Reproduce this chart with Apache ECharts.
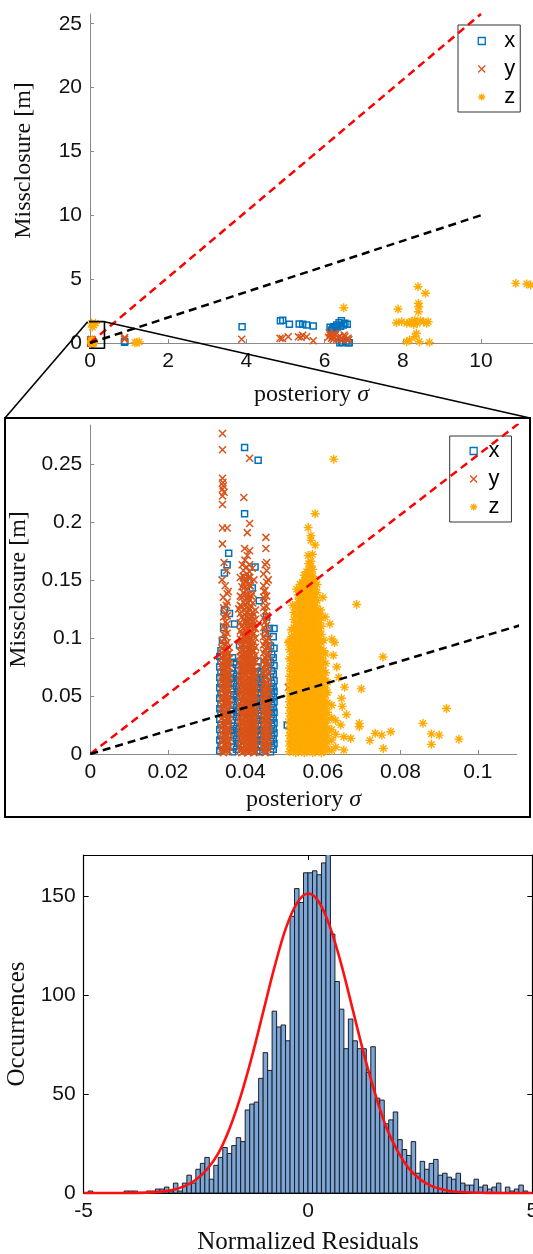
<!DOCTYPE html>
<html>
<head>
<meta charset="utf-8">
<script src="https://cdn.jsdelivr.net/npm/echarts@6/dist/echarts.min.js"></script>
<style>
  html, body { margin: 0; padding: 0; background: #fff; }
  #chart { width: 533px; height: 1254px; }
</style>
</head>
<body>
<div id="chart"></div>
<script>
// ---------------- misclosure vs. posterior sigma ----------------
// Dense blocks are stored as vertical runs: [sigma, [misclosure, ...]]
const xRuns = [
  [0.0334, [.003,.012,.021,.030,.039,.048,.057,.066,.075,.084]],
  [0.0337, [.007,.016,.025,.035,.043,.052,.061,.070,.080,.089]],
  [0.0367, [.002,.011,.020,.029,.038,.047,.056,.065,.074,.083]],
  [0.0370, [.006,.016,.024,.034,.042,.051,.061,.069,.079]],
  [0.0377, [.004,.013,.022,.032,.040,.049,.058,.067,.077]],
  [0.0380, [.009,.018,.027,.036,.045,.054,.063,.072]],
  [0.0430, [.003,.012,.021,.030,.040,.048,.057,.066,.075]],
  [0.0433, [.008,.017,.026,.035,.044,.053,.062,.071,.080]],
  [0.0438, [.002,.011,.020,.029,.038,.047,.056,.064]],
  [0.0441, [.006,.015,.024,.033,.042,.051,.060,.069]],
  [0.0465, [.002,.011,.020,.029,.038,.047,.056,.066,.079,.093]],
  [0.0468, [.007,.016,.025,.034,.043,.052,.061,.072,.086]],
  [0.0472, [.004,.013,.022,.031,.040,.049,.058,.069,.083,.101]],
  [0.0474, [.009,.018,.027,.036,.045,.054,.063,.076,.091,.108]]
];
const xPoints = [
  [.0357,.173],[.0398,.207],[.0398,.264],[.0433,.253],[.0353,.163],[.0346,.156],[.0425,.161],
  [.0346,.124],[.0359,.121],[.0436,.132],[.0418,.143],[.0462,.108],[.0341,.098],[.0385,.094],
  [.0372,.112],[.0409,.118],[.0452,.104],[.0508,.025],[.0344,.109],[.0400,.152],[.0455,.118]
];
const xFar = [
  [0.885,0.05],[0.885,0.12],[3.89,1.28],[4.87,1.75],[4.93,1.78],[5.10,1.46],[5.35,1.49],[5.44,1.46],
  [5.54,1.41],[5.71,1.33],[6.14,1.23],[6.24,1.28],[6.37,1.59],[6.43,1.75],[6.48,1.41],[6.58,1.46],
  [6.31,1.41],[6.18,1.02],[6.21,1.15],[6.27,1.10],[6.33,1.25],[6.41,1.32],[6.52,1.55],[6.39,0.02],
  [6.60,0.01],[6.46,0.03],[6.55,0.08],[6.63,0.02],[6.44,0.05]
];

const yRuns = [
  [0.0340, [.002,.005,.010,.013,.018,.023,.026,.031,.034,.039,.042,.047,.050,.055,.058,.063,.066,.071,.075,.078,.083,.087,.091,.097]],
  [0.0344, [.001,.004,.008,.012,.017,.020,.025,.028,.033,.036,.041,.044,.049,.052,.057,.060,.065,.068,.073,.077,.080,.085,.089,.095,.103,.110,.118,.126]],
  [0.0349, [.004,.008,.012,.016,.021,.024,.028,.033,.036,.040,.045,.048,.052,.057,.060,.064,.069,.072,.076,.081,.084,.088,.094,.101,.107,.114,.121]],
  [0.0353, [.003,.007,.010,.015,.019,.022,.027,.031,.034,.039,.043,.046,.051,.055,.058,.063,.067,.070,.075,.079,.082,.086,.090,.096,.104,.112,.119,.131,.138]],
  [0.0358, [.002,.006,.011,.014,.018,.022,.027,.030,.034,.038,.043,.046,.050,.054,.059,.062,.066,.070,.075,.078,.082,.087,.092]],
  [0.0387, [.003,.007,.011,.016,.019,.024,.028,.031,.036,.040,.043,.048,.052,.055,.060,.064,.067,.072,.076,.080,.084,.088,.093,.099,.106,.113,.121,.128,.136]],
  [0.0391, [.001,.005,.009,.013,.017,.021,.025,.029,.033,.038,.041,.045,.050,.053,.057,.061,.066,.069,.073,.077,.081,.085,.089,.094,.098,.103,.110,.118,.127,.135,.144]],
  [0.0395, [.002,.005,.010,.014,.018,.021,.026,.030,.034,.037,.042,.046,.049,.054,.058,.062,.065,.070,.074,.078,.082,.086,.090,.095,.101,.108,.116,.124,.131,.139,.147,.153,.158]],
  [0.0399, [.003,.007,.011,.015,.020,.023,.027,.032,.035,.039,.044,.047,.051,.056,.059,.063,.068,.071,.075,.080,.083,.087,.092,.097,.102,.107,.114,.120,.129,.137,.144,.151]],
  [0.0403, [.004,.008,.012,.016,.020,.024,.028,.032,.036,.040,.044,.048,.052,.056,.060,.064,.068,.072,.076,.080,.084,.088,.092,.096,.100,.105,.111,.118,.126,.134,.141,.149,.155,.161]],
  [0.0407, [.001,.005,.009,.013,.017,.021,.026,.029,.033,.037,.041,.045,.050,.053,.057,.061,.065,.070,.073,.077,.081,.085,.090,.094,.098,.102,.108,.114,.122,.130,.137,.146,.152]],
  [0.0411, [.002,.006,.010,.015,.018,.023,.027,.030,.035,.039,.042,.047,.051,.054,.059,.063,.066,.071,.075,.079,.083,.087,.091,.095,.099,.104,.110,.117,.125,.133,.145,.152,.157,.163]],
  [0.0415, [.003,.007,.012,.015,.020,.024,.028,.032,.036,.041,.044,.048,.053,.057,.061,.064,.068,.073,.077,.081,.085,.089,.094,.099,.105,.112,.119,.127,.136]],
  [0.0419, [.003,.007,.011,.015,.019,.023,.027,.031,.035,.039,.043,.047,.051,.055,.059,.063,.067,.071,.075,.079,.083,.088,.093,.098,.103,.109,.115,.122,.130,.138]],
  [0.0422, [.001,.005,.009,.013,.016,.021,.025,.029,.032,.036,.040,.045,.049,.052,.057,.062,.069,.075,.082,.089,.096,.104,.112,.120]],
  [0.0426, [.002,.006,.010,.014,.018,.022,.026,.030,.034,.038,.042,.046,.050,.055,.060,.066,.072,.079,.085,.092,.100,.108,.116,.124]],
  [0.0447, [.003,.007,.011,.015,.019,.023,.027,.031,.035,.039,.043,.047,.051,.055,.059,.064,.069,.074,.080,.087,.094,.101,.109,.117,.126,.135,.145,.155]],
  [0.0451, [.001,.005,.009,.013,.017,.021,.025,.029,.033,.037,.041,.045,.049,.053,.057,.061,.066,.071,.077,.083,.090,.097,.106,.114,.123,.132,.141]],
  [0.0455, [.002,.006,.010,.014,.018,.022,.026,.030,.034,.038,.042,.046,.050,.054,.058,.062,.067,.073,.079,.085,.092,.098,.104,.111,.119,.127,.136,.148,.158,.165]],
  [0.0461, [.004,.009,.013,.017,.021,.025,.030,.034,.038,.043,.048,.053,.058,.064,.071,.078,.085,.092,.099]]
];
const yPoints = [
  [.0341,.276],[.0341,.262],[.0411,.2547],[.0341,.2375],[.0342,.2338],[.0343,.231],[.0341,.228],
  [.0345,.2255],[.0341,.2223],[.0341,.215],[.0396,.2209],[.0411,.1986],[.0341,.1946],[.0353,.1946],
  [.0405,.1907],[.0453,.1866],[.0453,.177],[.0341,.181],[.0398,.177],[.0411,.175],[.0345,.165],
  [.0352,.158],[.0340,.150],[.0348,.145],[.0356,.140],[.0343,.135],[.0351,.128],[.0399,.167],
  [.0405,.171],[.0392,.163],[.0418,.160],[.0387,.152],[.0413,.145],[.0422,.150],[.0451,.163],
  [.0459,.150],[.0449,.140],[.0511,.0574],[.0407,.130],[.0383,.125]
];
const yFar = [
  [0.885,0.30],[0.885,0.42],[3.88,0.29],[4.86,0.37],[4.92,0.35],[5.07,0.49],[5.33,0.49],[5.44,0.60],
  [5.40,0.45],[5.54,0.49],[5.71,0.18],[6.14,0.63],[6.24,0.76],[6.39,0.55],[6.52,0.49],[6.60,0.37],
  [6.31,0.29],[6.18,0.37],[6.46,0.23],[6.10,0.45],[6.20,0.52],[6.28,0.68],[6.35,0.42],[6.44,0.35],
  [6.56,0.30],[6.62,0.25],[6.50,0.62],[6.22,0.28],[6.12,0.80]
];

const zRuns = [
  [0.0514, [.002,.007,.011,.016,.021,.026,.030,.035,.040,.045,.050,.055,.061,.067,.074,.082,.090,.097]],
  [0.0519, [.004,.009,.014,.018,.023,.028,.033,.038,.043,.047,.052,.058,.064,.071,.078,.086,.094,.101,.107]],
  [0.0525, [.004,.009,.013,.018,.023,.027,.032,.037,.042,.047,.052,.057,.062,.067,.072,.078,.084,.090,.096,.102,.109,.116,.122]],
  [0.0530, [.001,.006,.011,.015,.020,.025,.029,.034,.039,.044,.049,.054,.059,.064,.070,.075,.081,.087,.093,.099,.106,.113,.120,.127]],
  [0.0536, [.002,.006,.011,.016,.020,.025,.030,.034,.039,.044,.049,.053,.058,.063,.068,.072,.077,.082,.087,.092,.097,.102,.107,.113,.119,.125,.131,.137]],
  [0.0541, [.004,.009,.014,.018,.023,.028,.033,.037,.042,.047,.051,.056,.061,.066,.070,.075,.080,.085,.090,.094,.099,.104,.110,.116,.121,.127,.134,.140,.146]],
  [0.0547, [.003,.008,.013,.017,.022,.027,.031,.036,.041,.046,.050,.055,.060,.065,.069,.074,.079,.084,.088,.093,.098,.103,.108,.113,.118,.123,.128,.133,.138,.143,.148]],
  [0.0552, [.001,.005,.010,.014,.019,.024,.028,.033,.038,.042,.047,.052,.056,.061,.066,.070,.075,.080,.084,.089,.094,.098,.103,.107,.112,.117,.121,.126,.131,.135,.140,.145,.150,.154]],
  [0.0558, [.002,.007,.011,.016,.021,.025,.030,.035,.039,.044,.049,.053,.058,.063,.067,.072,.077,.081,.086,.091,.095,.100,.105,.109,.114,.119,.123,.128,.133,.137,.142,.147,.152,.157]],
  [0.0563, [.004,.009,.014,.018,.023,.028,.032,.037,.042,.046,.051,.056,.060,.065,.070,.074,.079,.084,.088,.093,.098,.102,.107,.112,.116,.121,.126,.130,.135,.140,.144,.149,.154,.159,.164]],
  [0.0569, [.004,.009,.013,.018,.023,.027,.032,.037,.041,.046,.051,.055,.060,.065,.069,.074,.079,.083,.088,.093,.097,.102,.107,.111,.116,.121,.125,.130,.135,.140,.145,.150,.156,.162]],
  [0.0574, [.001,.006,.011,.015,.020,.025,.029,.034,.039,.043,.048,.053,.057,.062,.067,.071,.076,.081,.085,.090,.095,.099,.104,.109,.113,.118,.123,.127,.132,.137,.142,.147,.153,.159]],
  [0.0580, [.002,.006,.011,.016,.020,.025,.030,.034,.039,.044,.048,.053,.058,.062,.067,.072,.076,.081,.086,.090,.095,.100,.105,.110,.116,.122,.128,.135,.142,.150]],
  [0.0585, [.004,.009,.013,.018,.023,.027,.032,.037,.041,.046,.051,.055,.060,.065,.070,.074,.079,.084,.089,.093,.098,.103,.108,.113,.119,.125,.132,.139,.146]],
  [0.0591, [.003,.008,.012,.017,.022,.026,.031,.036,.040,.045,.050,.054,.059,.064,.069,.074,.080,.086,.092,.099,.106,.113,.121]],
  [0.0596, [.001,.005,.010,.015,.019,.024,.029,.033,.038,.043,.048,.052,.057,.062,.067,.072,.077,.083,.089,.096,.103,.110,.117]],
  [0.0602, [.002,.007,.011,.016,.021,.026,.031,.036,.041,.046,.052,.058,.065,.072,.080,.089,.098]],
  [0.0607, [.004,.009,.014,.019,.024,.029,.034,.039,.045,.051,.057,.063,.070,.078,.086]],
  [0.0612, [.004,.010,.016,.022,.029,.036,.044,.053,.062]],
  [0.0623, [.003,.012,.021,.031,.042]],
  [0.0633, [.006,.017,.029]]
];
const zPoints = [
  [.0569,.166],[.0562,.171],[.0573,.172],[.0580,.180],[.0569,.184],[.0569,.188],[.0562,.195],
  [.0580,.207],[.0628,.254],[.0919,.0392],[.0858,.0264],[.0880,.0173],[.0900,.0163],[.0880,.0083],
  [.0951,.0128],[.0775,.0192],[.0752,.0163],[.0735,.0178],[.0721,.0117],[.0756,.0048],[.0694,.0264],
  [.0694,.0235],[.0672,.0134],[.0654,.0034],[.0654,.0148],[.0646,.025],[.0650,.041],[.0687,.1288],
  [.0755,.0836],[.0699,.0561],[.0656,.0576],[.0641,.066],[.0623,.099],[.0630,.096],[.0594,.124],
  [.0511,.096],[.0627,.085],[.0636,.075],[.0648,.048],[.0661,.034],[.0618,.112],[.0606,.118],
  [.0600,.135],[.0532,.142],[.0522,.128]
];
const zFar = [
  [1.20,0.05],[1.26,0.08],[1.15,0.02],[6.49,2.76],[8.39,4.41],[8.58,3.89],[8.40,3.11],[8.41,2.84],
  [8.40,2.45],[7.88,2.66],[7.84,1.59],[7.97,1.67],[8.10,1.54],[8.22,1.67],[8.31,1.80],[8.37,1.54],
  [8.53,1.67],[8.61,1.54],[8.65,1.67],[8.28,1.45],[8.45,1.75],[8.18,1.60],[8.35,0.76],[8.31,0.49],
  [8.10,0.10],[8.17,0.23],[8.42,0.10],[8.68,0.05],[10.89,4.67],[11.17,4.62],[11.27,4.54],
  [0.04,1.54],[0.10,1.40],[0.06,1.25],[0.14,1.55]
];

// reference lines: 1-sigma and 99 % bound (2.576 sigma)
const refSigma = [0, 10];
const refOneSigma = [0, 10];
const refBound = [0, 25.76];
// zoom window drawn on the overview: [sigmaMin, sigmaMax, missMin, missMax]
const zoomWindow = [-0.06, 0.37, -0.41, 1.67];

// ---------------- normalized residuals ----------------
const histLo = -5, histBinWidth = 0.1;
const histCounts = [
  0,1,0,0,0,0,0,0,0,1, 1,1,0,0,1,1,2,2,3,1, 5,1,5,9,5,12,15,18,7,14,
  18,23,20,24,28,26,42,45,46,58, 71,62,92,84,85,77,140,154,147,162,
  162,163,161,167,180,131,107,93,73,88, 77,73,73,61,74,48,47,35,37,41,
  27,22,19,26,10,16,12,15,17,9, 10,8,7,10,5,4,4,7,3,4, 2,3,5,0,3,1,2,4,1,0
];
const fitX = [-5,-4.5,-4,-3.5,-3.25,-3,-2.75,-2.5,-2.25,-2,-1.75,-1.5,-1.25,-1,-0.75,-0.5,-0.25,0,
              0.25,0.5,0.75,1,1.25,1.5,1.75,2,2.25,2.5,2.75,3,3.25,3.5,4,4.5,5];
const fitY = [0,0,0.05,0.3,0.7,1.7,3.5,6.7,12,20,32.5,49,69,91.5,114,133.5,146.5,151.5,
              147,134,115,92.5,70,50,33,21,12.3,6.9,3.6,1.8,0.75,0.35,0.06,0,0];

// ---------------- styling ----------------
const SANS = '"Liberation Sans", Arial, Helvetica, sans-serif';
const SERIF = '"Liberation Serif", "Times New Roman", serif';
const X_COLOR = '#0072BD', Y_COLOR = '#D95319', Z_COLOR = '#FFAA00';
const CROSS = 'path://M0,0L10,10M10,0L0,10';
const STAR = 'path://M0,5L10,5M5,0L5,10M1.5,1.5L8.5,8.5M8.5,1.5L1.5,8.5';
const AXIS_GREY = '#8a8a8a';

const flatRuns = runs => runs.flatMap(([s, ms]) => ms.map(m => [s, m]));
const xData = [...flatRuns(xRuns), ...xPoints, ...xFar];
const yData = [...flatRuns(yRuns), ...yPoints, ...yFar];
const zData = [...flatRuns(zRuns), ...zPoints, ...zFar];

function scatter(name, data, g, symbol, size, color, bw) {
  return {
    type: 'scatter', name, data, xAxisIndex: g, yAxisIndex: g,
    symbol, symbolSize: size, symbolKeepAspect: true, silent: true,
    itemStyle: { color: 'rgba(0,0,0,0)', borderColor: color, borderWidth: bw, opacity: 1 },
    emphasis: { disabled: true }
  };
}
function refLine(g, ys, color) {
  return {
    type: 'line', xAxisIndex: g, yAxisIndex: g, silent: true, clip: true,
    data: refSigma.map((s, i) => [s, ys[i]]), symbol: 'none',
    lineStyle: { color, width: 2.5, type: [8, 5] }, z: 5
  };
}
function valueAxis(g, min, max, ticks, extra) {
  return Object.assign({
    type: 'value', gridIndex: g, min, max,
    splitLine: { show: false },
    axisLine: { show: true, onZero: false, lineStyle: { color: AXIS_GREY, width: 1 } },
    axisTick: { show: true, inside: true, length: 4, customValues: ticks, lineStyle: { color: AXIS_GREY } },
    axisLabel: { customValues: ticks, color: '#111', fontFamily: SANS, fontSize: 21, margin: 8 },
    nameTextStyle: { fontFamily: SERIF, fontSize: 24, color: '#111',
      rich: { i: { fontFamily: SERIF, fontSize: 24, fontStyle: 'italic', color: '#111' } } }
  }, extra || {});
}
function legendAt(left, top, padding, textPad) {
  return {
    data: ['x', 'y', 'z'], orient: 'vertical', left, top, padding,
    itemWidth: 7, itemHeight: 7, itemGap: 6, selectedMode: false,
    backgroundColor: '#fff', borderColor: '#333', borderWidth: 1, borderRadius: 0,
    itemStyle: { borderWidth: 1.3 },
    textStyle: { fontFamily: SANS, fontSize: 22, lineHeight: 22, color: '#000', padding: [0, 0, 0, textPad] }
  };
}

const chart = echarts.init(document.getElementById('chart'), null, { renderer: 'canvas' });

const option = {
  animation: false,
  backgroundColor: '#fff',
  grid: [
    { left: 90, top: 14, right: 0, height: 329, outerBoundsMode: 'none' },
    { left: 90.3, top: 425, width: 426.4, height: 329, outerBoundsMode: 'none' },
    { left: 83.7, top: 855, width: 448.6, height: 338, outerBoundsMode: 'none' }
  ],
  xAxis: [
    valueAxis(0, 0, 11.33, [0, 2, 4, 6, 8, 10], {
      name: 'posteriory {i|σ}', nameLocation: 'middle', nameGap: 40 }),
    valueAxis(1, 0, 0.11, [0, 0.02, 0.04, 0.06, 0.08, 0.1], {
      name: 'posteriory {i|σ}', nameLocation: 'middle', nameGap: 34 }),
    valueAxis(2, -5, 5, [-5, 0, 5], {
      name: 'Normalized Residuals', nameLocation: 'middle', nameGap: 37,
      axisLine: { show: true, onZero: false, lineStyle: { color: '#000', width: 1.2 } },
      axisTick: { show: true, inside: true, length: 5, customValues: [-5, 0, 5], lineStyle: { color: '#000' } },
      nameTextStyle: { fontFamily: SERIF, fontSize: 25, color: '#111' } }),
    valueAxis(2, -5, 5, [-5, 0, 5], {
      position: 'top',
      axisLine: { show: true, onZero: false, lineStyle: { color: '#000', width: 1.2 } },
      axisTick: { show: true, inside: true, length: 5, customValues: [-5, 0, 5], lineStyle: { color: '#000' } },
      axisLabel: { show: false } })
  ],
  yAxis: [
    valueAxis(0, 0, 25.76, [0, 5, 10, 15, 20, 25], {
      name: 'Missclosure [m]', nameLocation: 'middle', nameGap: 54,
      nameTextStyle: { fontFamily: SERIF, fontSize: 24, color: '#111', padding: [0, 0, 0, 36] } }),
    valueAxis(1, 0, 0.2834, [0, 0.05, 0.1, 0.15, 0.2, 0.25], {
      name: 'Missclosure [m]', nameLocation: 'middle', nameGap: 55 }),
    valueAxis(2, 0, 171, [0, 50, 100, 150], {
      name: 'Occurrences', nameLocation: 'middle', nameGap: 53,
      axisLine: { show: true, onZero: false, lineStyle: { color: '#000', width: 1.2 } },
      axisTick: { show: true, inside: true, length: 5, customValues: [0, 50, 100, 150], lineStyle: { color: '#000' } },
      nameTextStyle: { fontFamily: SERIF, fontSize: 25, color: '#111' } }),
    valueAxis(2, 0, 171, [0, 50, 100, 150], {
      position: 'right',
      axisLine: { show: true, onZero: false, lineStyle: { color: '#000', width: 1.2 } },
      axisTick: { show: true, inside: true, length: 5, customValues: [0, 50, 100, 150], lineStyle: { color: '#000' } },
      axisLabel: { show: false } })
  ],
  legend: [
    legendAt(458, 25, [5, 5, 4, 19.6], 14),
    legendAt(449.7, 436, [4, 12, 4, 19.8], 6.3)
  ],
  series: [
    // overview
    scatter('x', xData, 0, 'rect', 6, X_COLOR, 1.5),
    scatter('y', yData, 0, CROSS, 7, Y_COLOR, 1.5),
    scatter('z', zData, 0, STAR, 9, Z_COLOR, 1.4),
    refLine(0, refBound, '#ff0000'),
    refLine(0, refOneSigma, '#000000'),
    {
      type: 'line', xAxisIndex: 0, yAxisIndex: 0, silent: true, clip: false, symbol: 'none', z: 6,
      data: [[zoomWindow[0], zoomWindow[2]], [zoomWindow[1], zoomWindow[2]], [zoomWindow[1], zoomWindow[3]],
             [zoomWindow[0], zoomWindow[3]], [zoomWindow[0], zoomWindow[2]]],
      lineStyle: { color: '#000', width: 1.6 }
    },
    // zoomed view
    scatter('x', xData, 1, 'rect', 6, X_COLOR, 1.5),
    scatter('y', yData, 1, CROSS, 7, Y_COLOR, 1.5),
    scatter('z', zData, 1, STAR, 9, Z_COLOR, 1.4),
    refLine(1, refBound, '#ff0000'),
    refLine(1, refOneSigma, '#000000'),
    // histogram of normalized residuals
    {
      type: 'custom', xAxisIndex: 2, yAxisIndex: 2, silent: true, clip: true,
      data: histCounts.map((c, i) => [histLo + i * histBinWidth, histLo + (i + 1) * histBinWidth, c]),
      encode: { x: [0, 1], y: 2 },
      renderItem(params, api) {
        const p0 = api.coord([api.value(0), 0]);
        const p1 = api.coord([api.value(1), api.value(2)]);
        return {
          type: 'rect',
          shape: { x: p0[0], y: p1[1], width: p1[0] - p0[0], height: p0[1] - p1[1] },
          style: { fill: '#7ba6d9', stroke: '#1e1e1e', lineWidth: 1 }
        };
      }
    },
    {
      type: 'line', xAxisIndex: 2, yAxisIndex: 2, silent: true, clip: false, symbol: 'none',
      smooth: 0.35, data: fitX.map((x, i) => [x, fitY[i]]),
      lineStyle: { color: '#ff1010', width: 2.6 }, z: 5
    }
  ]
};
chart.setOption(option);

// frame around the zoomed view and the two connectors from the zoom window
const FRAME = { x: 5, y: 418, w: 525, h: 399 };
const tl = chart.convertToPixel({ xAxisIndex: 0, yAxisIndex: 0 }, [zoomWindow[0], zoomWindow[3]]);
const tr = chart.convertToPixel({ xAxisIndex: 0, yAxisIndex: 0 }, [zoomWindow[1], zoomWindow[3]]);
chart.setOption({
  graphic: [
    { type: 'rect', silent: true, z: 10,
      shape: { x: FRAME.x, y: FRAME.y, width: FRAME.w, height: FRAME.h },
      style: { fill: 'none', stroke: '#000', lineWidth: 2 } },
    { type: 'line', silent: true, z: 10,
      shape: { x1: tl[0], y1: tl[1], x2: FRAME.x, y2: FRAME.y },
      style: { stroke: '#000', lineWidth: 1.6 } },
    { type: 'line', silent: true, z: 10,
      shape: { x1: tr[0], y1: tr[1], x2: FRAME.x + FRAME.w, y2: FRAME.y },
      style: { stroke: '#000', lineWidth: 1.6 } }
  ]
});
</script>
</body>
</html>
